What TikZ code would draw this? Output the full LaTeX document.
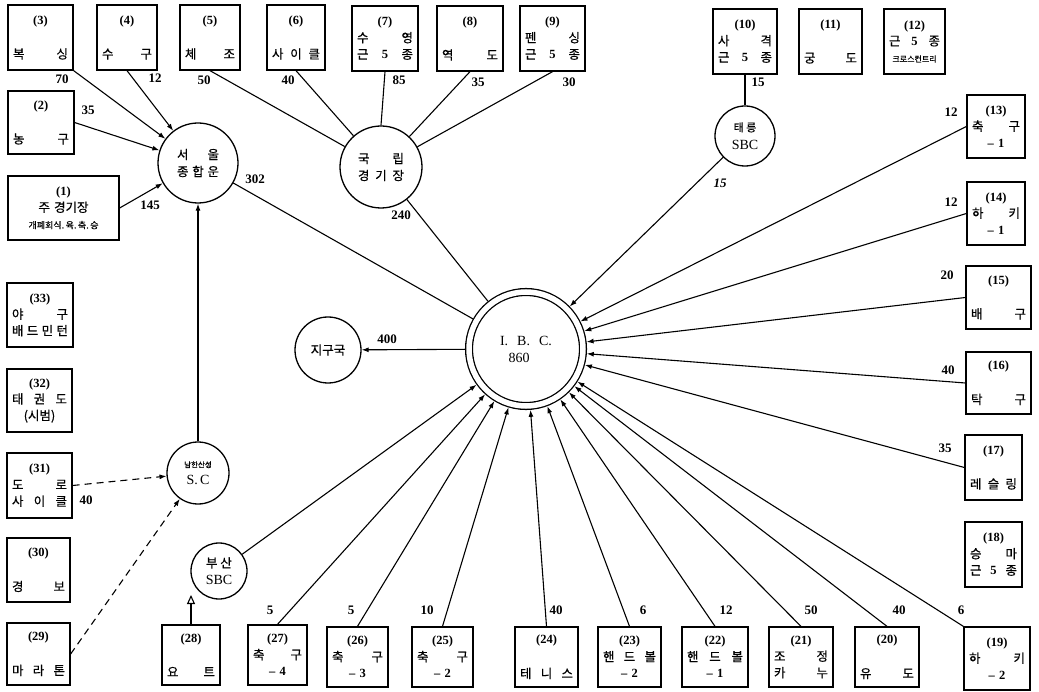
\documentclass[tikz,border=0pt]{standalone}
\usepackage{fontspec}
\setmainfont{Liberation Serif}
\newfontfamily\kr{Noto Sans CJK KR}[FakeBold=0.6]
\usetikzlibrary{arrows.meta}
\newcommand\bnum[1]{{\rmfamily\bfseries(#1)}}
\newcommand\dsm[1]{{\rmfamily\bfseries #1}}
\newcommand\mkbox[6]{%
  \pgfmathsetmacro\bxw{#4-#2}%
  \pgfmathsetmacro\bxh{#5-#3}%
  \pgfmathsetmacro\bxt{#4-#2-10}%
  \node[bx, minimum width=\bxw pt, minimum height=\bxh pt, text width=\bxt pt] (#1) at ({(#2+#4)/2},{(#3+#5)/2}) {#6};}
\begin{document}
\begin{tikzpicture}[x=1pt,y=-1pt,
  bx/.style={draw, line width=1.3pt, inner sep=0pt, align=center, font=\kr\fontsize{12.5}{16.5}\selectfont},
  cir/.style={draw, circle, line width=1.3pt, inner sep=0pt, align=center, font=\kr\fontsize{12.5}{17}\selectfont},
  num/.style={font=\rmfamily\bfseries\fontsize{13}{13}\selectfont, inner sep=0pt},
  arr/.style={line width=1.1pt, -{Latex[length=7pt,width=5pt]}},
  ln/.style={line width=1.1pt},
  dsh/.style={arr, dash pattern=on 7pt off 5pt}]
\fill[white] (0,0) rectangle (1039,692);
\useasboundingbox (0,0) rectangle (1039,692);
% top row
\mkbox{b3}{8}{5}{73}{70}{\bnum{3}\\[18pt]복\hfill 싱}
\mkbox{b4}{97}{5}{157}{70}{\bnum{4}\\[18pt]수\hfill 구}
\mkbox{b5}{180}{5}{240}{70}{\bnum{5}\\[18pt]체\hfill 조}
\mkbox{b6}{267}{5}{325}{70}{\bnum{6}\\[18pt]사\hfill 이\hfill 클}
\mkbox{b7}{352}{6}{418}{71}{\bnum{7}\\수\hfill 영\\근\hfill \dsm{5}\hfill 종}
\mkbox{b8}{437}{6}{503}{71}{\bnum{8}\\[18pt]역\hfill 도}
\mkbox{b9}{520}{6}{585}{71}{\bnum{9}\\펜\hfill 싱\\근\hfill \dsm{5}\hfill 종}
\mkbox{b10}{713}{9}{777}{74}{\bnum{10}\\사\hfill 격\\근\hfill \dsm{5}\hfill 종}
\mkbox{b11}{799}{9}{862}{74}{\bnum{11}\\[18pt]궁\hfill 도}
\mkbox{b12}{884}{9}{945}{74}{\bnum{12}\\근\hfill \dsm{5}\hfill 종\\{\fontsize{8}{10}\selectfont 크로스컨트리}}
% right column
\mkbox{b13}{967}{95}{1025}{158}{\bnum{13}\\축\hfill 구\\\dsm{– 1}}
\mkbox{b14}{967}{182}{1025}{245}{\bnum{14}\\하\hfill 키\\\dsm{– 1}}
\mkbox{b15}{966}{266}{1031}{329}{\bnum{15}\\[18pt]배\hfill 구}
\mkbox{b16}{966}{352}{1031}{414}{\bnum{16}\\[18pt]탁\hfill 구}
\mkbox{b17}{965}{435}{1022}{500}{\bnum{17}\\[18pt]레\hfill 슬\hfill 링}
\mkbox{b18}{965}{522}{1022}{587}{\bnum{18}\\승\hfill 마\\근\hfill \dsm{5}\hfill 종}
\mkbox{b19}{964}{627}{1030}{690}{\bnum{19}\\하\hfill 키\\\dsm{– 2}}
% bottom row
\mkbox{b20}{855}{627}{919}{687}{\bnum{20}\\[18pt]유\hfill 도}
\mkbox{b21}{769}{627}{833}{687}{\bnum{21}\\조\hfill 정\\카\hfill 누}
\mkbox{b22}{682}{627}{748}{687}{\bnum{22}\\핸\hfill 드\hfill 볼\\\dsm{– 1}}
\mkbox{b23}{598}{627}{661}{687}{\bnum{23}\\핸\hfill 드\hfill 볼\\\dsm{– 2}}
\mkbox{b24}{515}{627}{578}{687}{\bnum{24}\\[18pt]테\hfill 니\hfill 스}
\mkbox{b25}{412}{627}{473}{687}{\bnum{25}\\축\hfill 구\\\dsm{– 2}}
\mkbox{b26}{327}{627}{388}{687}{\bnum{26}\\축\hfill 구\\\dsm{– 3}}
\mkbox{b27}{248}{625}{307}{685}{\bnum{27}\\축\hfill 구\\\dsm{– 4}}
\mkbox{b28}{162}{625}{220}{685}{\bnum{28}\\[18pt]요\hfill 트}
% left column
\mkbox{b29}{7}{623}{70}{685}{\bnum{29}\\[18pt]마\hfill 라\hfill 톤}
\mkbox{b30}{7}{538}{70}{602}{\bnum{30}\\[18pt]경\hfill 보}
\mkbox{b31}{7}{453}{72}{518}{\bnum{31}\\도\hfill 로\\사\hfill 이\hfill 클}
\mkbox{b32}{7}{369}{72}{432}{\bnum{32}\\태\hfill 권\hfill 도\\(시범)}
\mkbox{b33}{7}{283}{73}{347}{\bnum{33}\\야\hfill 구\\배\hfill 드\hfill 민\hfill 턴}
\mkbox{b1}{8}{176}{119}{240}{\bnum{1}\\주 경기장\\{\fontsize{9}{11}\selectfont 개폐회식.\,육.\,축.\,승}}
\mkbox{b2}{8}{91}{74}{154}{\bnum{2}\\[18pt]농\hfill 구}
% circles
\node[cir, minimum size=80pt, text width=42pt] (seoul) at (198,163) {서\hfill 울\\종\hfill 합\hfill 운};
\node[cir, minimum size=82pt, text width=46pt] (kuk) at (381,167) {국\hfill 립\\경\hfill 기\hfill 장};
\node[cir, minimum size=60pt, font=\kr\fontsize{11}{18}\selectfont] (tae) at (745,136) {태 릉\\{\rmfamily\fontsize{14}{14}\selectfont SBC}};
\node[cir, minimum size=114pt, double, double distance=5.5pt, outer sep=4pt, font=\rmfamily\fontsize{14}{17}\selectfont] (ibc) at (526,349) {I.\hspace{9pt}B.\hspace{9pt}C.\\860\hspace*{14pt}};
\node[cir, minimum size=66pt] (jigu) at (328,350) {지구국};
\node[cir, minimum size=62pt] (nhs) at (198,473) {{\fontsize{7.5}{9}\selectfont 남한산성}\\{\rmfamily\fontsize{14}{14}\selectfont S.\,C}};
\node[cir, minimum size=56pt] (pusan) at (219,571) {부 산\\{\rmfamily\fontsize{14}{14}\selectfont SBC}};
\coordinate (t28) at (191,595);
% labels
\node[num] (l3) at (62,79) {70};
\node[num] (l4) at (155,78) {12};
\node[num] (l2) at (88,110) {35};
\node[num] (l1) at (150,205) {145};
\node[num] (lseoul) at (255,179) {302};
\node[num] (l5) at (204,80) {50};
\node[num] (l6) at (288,80) {40};
\node[num] (l7) at (399,80) {85};
\node[num] (l8) at (478,82) {35};
\node[num] (l9) at (569,82) {30};
\node[num] (lkuk) at (401,215) {240};
\node[num] (l10) at (758,82) {15};
\node[num, font=\rmfamily\bfseries\itshape\fontsize{13}{13}\selectfont] (ltae) at (720,183) {15};
\node[num] (l13) at (951,112) {12};
\node[num] (l14) at (951,202) {12};
\node[num] (l15) at (947,275) {20};
\node[num] (l16) at (948,370) {40};
\node[num] (l17) at (945,448) {35};
\node[num] (l19) at (961,610) {6};
\node[num] (l20) at (899,610) {40};
\node[num] (l21) at (811,610) {50};
\node[num] (l22) at (726,610) {12};
\node[num] (l23) at (643,610) {6};
\node[num] (l24) at (556,610) {40};
\node[num] (l25) at (427,610) {10};
\node[num] (l26) at (351,610) {5};
\node[num] (l27) at (270,610) {5};
\node[num] (lj) at (387,339) {400};
\node[num] (l31) at (86,500) {40};
% connectors to Seoul
\draw[arr] (b3.south east) -- (seoul);
\draw[arr] (b4.south) -- (seoul);
\draw[arr] (b2.east) -- (seoul);
\draw[arr] (b1.east) -- (seoul);
\draw[arr] (nhs.north) -- (seoul.south);
\draw[ln] (seoul) -- (ibc);
% to national stadium
\draw[ln] (b5.south) -- (kuk);
\draw[ln] (b6.south) -- (kuk);
\draw[ln] (b7.south) -- (kuk.north);
\draw[ln] (b8.south) -- (kuk);
\draw[ln] (b9.south) -- (kuk);
\draw[ln] (kuk) -- (ibc);
% Taereung
\draw[ln] (b10.south) -- (tae.north);
\draw[arr] (tae) -- (ibc);
% right spokes
\draw[arr] (b13.west) -- (ibc);
\draw[arr] (b14.west) -- (ibc);
\draw[arr] (b15.west) -- (ibc);
\draw[arr] (b16.west) -- (ibc);
\draw[arr] (b17.west) -- (ibc);
\draw[arr] (b19.north west) -- (ibc);
% bottom spokes
\draw[arr] (b20.north) -- (ibc);
\draw[arr] (b21.north) -- (ibc);
\draw[arr] (b22.north) -- (ibc);
\draw[arr] (b23.north) -- (ibc);
\draw[arr] (b24.north) -- (ibc);
\draw[arr] (b25.north) -- (ibc);
\draw[arr] (b26.north) -- (ibc);
\draw[arr] (b27.north) -- (ibc);
\draw[arr] (pusan) -- (ibc);
\draw[line width=1.1pt, -{Triangle[open,length=9pt,width=8pt]}] (b28.north) -- (t28);
% Namhansanseong
\draw[dsh] (b31.east) -- (nhs);
\draw[dsh] (b29.east) -- (nhs);
% IBC to earth station
\draw[arr] (ibc) -- (jigu);
\end{tikzpicture}
\end{document}
